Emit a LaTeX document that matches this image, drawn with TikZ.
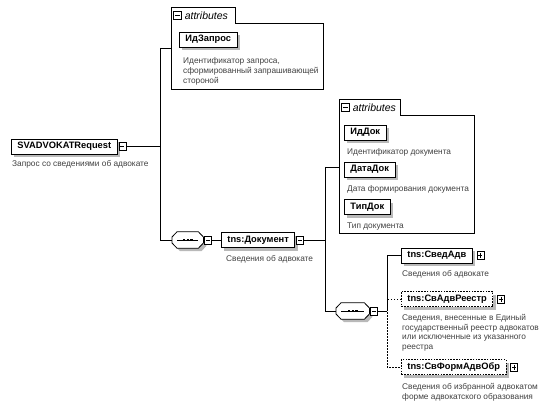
\documentclass[tikz,border=0pt]{standalone}
\usepackage{fontspec}
\setmainfont{Liberation Sans}
\usetikzlibrary{positioning,calc}
\tikzset{
  boxshadow/.style={preaction={draw=none, fill=gray!55,
    transform canvas={shift={(3pt,-3pt)}}}},
  elembox/.style={draw=black, line width=0.9pt, fill=white, anchor=west,
    font=\fontsize{9.3}{11}\selectfont\bfseries,
    minimum height=15pt, inner xsep=6pt, inner ysep=0pt, boxshadow},
  optbox/.style={elembox, dash pattern=on 1.6pt off 1.2pt},
  desctxt/.style={font=\fontsize{8.3}{9.8}\selectfont, text=black!75,
    anchor=north west, align=left, inner sep=0pt},
  attrarea/.style={anchor=north west, inner sep=0pt},
  attrtab/.style={anchor=south west, inner sep=0pt, minimum height=15pt},
  attrline/.style={line width=0.7pt},
  tabtxt/.style={font=\fontsize{10.5}{12}\selectfont\itshape, inner sep=0pt, anchor=west},
  seqbox/.style={anchor=west, minimum width=31pt, minimum height=16pt, inner sep=0pt},
  seqline/.style={draw=black, line width=0.8pt, fill=white},
  signicon/.style={draw=black, line width=0.6pt, fill=white, anchor=west,
    minimum width=7pt, minimum height=8pt, inner sep=0pt},
  minusicon/.style={signicon, path picture={
      \draw[line width=0.6pt] ($(path picture bounding box.west)+(1.5pt,0pt)$)
        -- ($(path picture bounding box.east)+(-1.5pt,0pt)$);}},
  plusicon/.style={signicon, path picture={
      \draw[line width=0.6pt] ($(path picture bounding box.west)+(1.5pt,0pt)$)
        -- ($(path picture bounding box.east)+(-1.5pt,0pt)$);
      \draw[line width=0.6pt] ($(path picture bounding box.north)+(0pt,-1.5pt)$)
        -- ($(path picture bounding box.south)+(0pt,1.5pt)$);}},
  conn/.style={line width=0.7pt},
  optconn/.style={conn, dash pattern=on 1.5pt off 1.5pt},
}
% octagon frame of a sequence compositor, with its shadow and the -***- mark
\newcommand{\seqframe}[1]{%
  \fill[gray!55, transform canvas={shift={(3pt,-3pt)}}]
    ($(#1.west)+(0,-3)$) -- ($(#1.north west)+(5,0)$) -- ($(#1.north east)+(-5,0)$)
    -- ($(#1.east)+(0,-3)$) -- ($(#1.east)+(0,3)$) -- ($(#1.south east)+(-5,0)$)
    -- ($(#1.south west)+(5,0)$) -- ($(#1.west)+(0,3)$) -- cycle;
  \draw[seqline]
    ($(#1.west)+(0,-3)$) -- ($(#1.north west)+(5,0)$) -- ($(#1.north east)+(-5,0)$)
    -- ($(#1.east)+(0,-3)$) -- ($(#1.east)+(0,3)$) -- ($(#1.south east)+(-5,0)$)
    -- ($(#1.south west)+(5,0)$) -- ($(#1.west)+(0,3)$) -- cycle;
  \draw[line width=1pt] ($(#1.west)+(5,0)$) -- ($(#1.east)+(-5,0)$);
  \foreach \dx in {-3.6,0,3.6}
    \fill ($(#1.center)+(\dx-1.2,-1.2)$) rectangle ++(2.4,2.4);
}

\begin{document}
\begin{tikzpicture}[x=1pt, y=-1pt]
  \useasboundingbox (0,0) rectangle (543,406);

  %% ---- root element ----
  \node[elembox] (req) at (11,146.5) {SVADVOKATRequest};
  \node[minusicon, right=1pt of req] (reqI) {};
  \node[desctxt] (reqD) at ([shift={(1pt,-6pt)}]req.south west) {Запрос со сведениями об адвокате};

  %% ---- attributes of the request ----
  \node[attrarea, minimum width=152pt, minimum height=66pt] (grp1) at (171,23) {};
  \node[attrtab, minimum width=64pt] (tab1) at (grp1.north west) {};
  \node[minusicon, minimum width=8pt] (tab1I) at ([xshift=2pt]tab1.west) {};
  \node[tabtxt, right=3pt of tab1I] (tab1T) {attributes};
  \draw[attrline] (grp1.south west) -- (tab1.north west) -- (tab1.north east)
    -- (tab1.south east) -- (grp1.north east) -- (grp1.south east) -- cycle;

  \node[elembox] (idz) at (179,39.5) {ИдЗапрос};
  \node[desctxt] (idzD) at ([shift={(4pt,-10pt)}]idz.south west)
    {Идентификатор запроса,\\сформированный запрашивающей\\стороной};

  %% ---- sequence -> tns:Документ ----
  \node[seqbox] (seq1) at (172,240) {};
  \seqframe{seq1}
  \node[minusicon, right=1pt of seq1] (seq1I) {};
  \node[elembox] (doc) at (221,240) {tns:Документ};
  \node[minusicon, right=1pt of doc] (docI) {};
  \node[desctxt] (docD) at ([shift={(5pt,-7pt)}]doc.south west) {Сведения об адвокате};

  %% bus of the root
  \coordinate (bus1t) at (160,48);
  \coordinate (bus1b) at (160,240);
  \draw[conn] (reqI.east) -- (reqI.east -| bus1t);
  \draw[conn] (bus1t) -- (bus1b);
  \draw[conn] (bus1t) -- (bus1t -| grp1.west);
  \draw[conn] (bus1b) -- (seq1.west);
  \draw[conn] (seq1I.east) -- (doc.west);

  %% ---- attributes of tns:Документ ----
  \node[attrarea, minimum width=135pt, minimum height=118pt] (grp2) at (339,115) {};
  \node[attrtab, minimum width=61pt] (tab2) at (grp2.north west) {};
  \node[minusicon, minimum width=8pt] (tab2I) at ([xshift=2pt]tab2.west) {};
  \node[tabtxt, right=3pt of tab2I] (tab2T) {attributes};
  \draw[attrline] (grp2.south west) -- (tab2.north west) -- (tab2.north east)
    -- (tab2.south east) -- (grp2.north east) -- (grp2.south east) -- cycle;

  \node[elembox] (iddok) at (344,132.5) {ИдДок};
  \node[desctxt] (iddokD) at ([shift={(3pt,-8pt)}]iddok.south west) {Идентификатор документа};
  \node[elembox] (datadok) at (344,169.5) {ДатаДок};
  \node[desctxt] (datadokD) at ([shift={(3pt,-8pt)}]datadok.south west) {Дата формирования документа};
  \node[elembox] (tipdok) at (344,207) {ТипДок};
  \node[desctxt] (tipdokD) at ([shift={(3pt,-8pt)}]tipdok.south west) {Тип документа};

  %% ---- sequence -> children of tns:Документ ----
  \node[seqbox, minimum width=33pt] (seq2) at (336,311) {};
  \seqframe{seq2}
  \node[minusicon, right=1pt of seq2] (seq2I) {};

  \node[elembox] (sved) at (401,255.5) {tns:СведАдв};
  \node[plusicon, right=4pt of sved] (svedI) {};
  \node[desctxt] (svedD) at ([shift={(1pt,-7pt)}]sved.south west) {Сведения об адвокате};

  \node[optbox] (reestr) at (401,299) {tns:СвАдвРеестр};
  \node[plusicon, right=4pt of reestr] (reestrI) {};
  \node[desctxt] (reestrD) at ([shift={(1pt,-7pt)}]reestr.south west)
    {Сведения, внесенные в Единый\\государственный реестр адвокатов\\или исключенные из указанного\\реестра};

  \node[optbox] (form) at (401,367) {tns:СвФормАдвОбр};
  \node[plusicon, right=4pt of form] (formI) {};
  \node[desctxt] (formD) at ([shift={(1pt,-8pt)}]form.south west)
    {Сведения об избранной адвокатом\\форме адвокатского образования};

  %% bus of tns:Документ
  \coordinate (bus2t) at (325,167);
  \coordinate (bus2b) at (325,311);
  \draw[conn] (docI.east) -- (docI.east -| bus2t);
  \draw[conn] (bus2t) -- (bus2b);
  \draw[conn] (bus2t) -- (bus2t -| grp2.west);
  \draw[conn] (bus2b) -- (seq2.west);

  %% bus of the sequence
  \coordinate (bus3) at (387,311);
  \draw[conn] (seq2I.east) -- (bus3);
  \draw[conn] (bus3) -- (bus3 |- sved.west) -- (sved.west);
  \draw[optconn] (reestr.west) -- (reestr.west -| bus3) -- (form.west -| bus3) -- (form.west);

\end{tikzpicture}
\end{document}
